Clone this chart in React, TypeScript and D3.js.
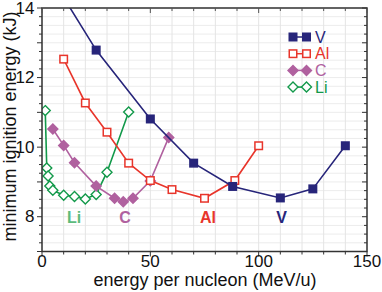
import React from "react";
import * as d3 from "d3";

const vX = [10, 25, 50, 70, 88, 110, 125, 140];
const vY = [14.3, 12.79, 10.81, 9.54, 8.87, 8.54, 8.8, 10.04];
const alX = [10, 20, 30, 40, 50, 60, 75, 89, 100];
const alY = [12.53, 11.27, 10.43, 9.54, 9.04, 8.78, 8.53, 9.04, 10.04];
const cX = [5, 10, 15, 25, 33.5, 37.5, 42, 50, 58.5];
const cY = [10.52, 10.05, 9.55, 8.88, 8.53, 8.43, 8.53, 9.03, 10.28];
const liX = [1.5, 2.2, 2.8, 3.6, 5, 10, 15, 20, 25, 30, 40];
const liY = [11.05, 9.4, 9.17, 8.88, 8.76, 8.62, 8.58, 8.51, 8.64, 9.28, 11.01];

const xTicks = [0, 50, 100, 150];
const yTicks = [8, 10, 12, 14];

const W = 382, H = 292;
const L = 42, R = 367, T = 8, B = 251.5;
const FONT = "Liberation Sans, Arial, sans-serif";

const colV = "#27257a";
const colAl = "#e8352b";
const colC = "#b0619f";
const colLi = "#12994a";
const colLiText = "#5dbb7c";

type Shape = "sqFill" | "sqOpen" | "diaFill" | "diaOpen";

function Marker({ x, y, shape, color }: { x: number; y: number; shape: Shape; color: string }) {
  if (shape === "sqFill" || shape === "sqOpen") {
    const s = 7.5;
    return (
      <rect x={x - s / 2} y={y - s / 2} width={s} height={s}
        fill={shape === "sqFill" ? color : "#fff"} stroke={color} strokeWidth={1.5} />
    );
  }
  const r = 5;
  const pts = `${x},${y - r} ${x + r},${y} ${x},${y + r} ${x - r},${y}`;
  return <polygon points={pts} fill={shape === "diaFill" ? color : "#fff"} stroke={color} strokeWidth={1.4} />;
}

export default function App() {
  const x = d3.scaleLinear().domain([0, 150]).range([L, R]);
  const y = d3.scaleLinear().domain([7, 14]).range([B, T]);
  const line = d3.line<[number, number]>().x(d => x(d[0])).y(d => y(d[1]));

  const series = [
    { xs: liX, ys: liY, color: colLi, shape: "diaOpen" as Shape },
    { xs: cX, ys: cY, color: colC, shape: "diaFill" as Shape },
    { xs: alX, ys: alY, color: colAl, shape: "sqOpen" as Shape },
    { xs: vX, ys: vY, color: colV, shape: "sqFill" as Shape },
  ];

  const xMinor = d3.range(0, 151, 10);
  const yMinor = d3.range(7, 14.001, 0.25);

  const legend = [
    { name: "V", color: colV, shape: "sqFill" as Shape },
    { name: "Al", color: colAl, shape: "sqOpen" as Shape },
    { name: "C", color: colC, shape: "diaFill" as Shape },
    { name: "Li", color: colLi, shape: "diaOpen" as Shape },
  ];

  const labels = [
    { t: "Li", x: 14.8, c: colLiText },
    { t: "C", x: 38.3, c: colC },
    { t: "Al", x: 76.6, c: colAl },
    { t: "V", x: 110.6, c: colV },
  ];

  return (
    <svg width={W} height={H} style={{ position: "absolute", left: 0, top: 0 }} fontFamily={FONT}>
      <defs>
        <clipPath id="plot">
          <rect x={L} y={T} width={R - L} height={B - T} />
        </clipPath>
      </defs>
      <rect x={0} y={0} width={W} height={H} fill="#fff" />
      {/* grid */}
      {yMinor.map((v, i) => (
        <line key={"gy" + i} x1={L} x2={R} y1={y(v)} y2={y(v)} stroke="#ececec" strokeWidth={1} />
      ))}
      {xMinor.map((v, i) => (
        <line key={"gx" + i} x1={x(v)} x2={x(v)} y1={T} y2={B} stroke="#e4e4e4" strokeWidth={1} />
      ))}
      {/* series */}
      <g clipPath="url(#plot)">
        {series.map((s, si) => {
          const pts: [number, number][] = s.xs.map((v, i) => [v, s.ys[i]]);
          return (
            <g key={si}>
              <path d={line(pts) || ""} fill="none" stroke={s.color} strokeWidth={1.6} />
              {pts.map((p, i) => (
                <Marker key={i} x={x(p[0])} y={y(p[1])} shape={s.shape} color={s.color} />
              ))}
            </g>
          );
        })}
      </g>
      {/* frame */}
      <rect x={L} y={T} width={R - L} height={B - T} fill="none" stroke="#333" strokeWidth={1.5} />
      {/* x ticks bottom (outward) & top (inward) */}
      {xMinor.map((v, i) => {
        const major = v % 50 === 0;
        return (
          <g key={"xt" + i}>
            <line x1={x(v)} x2={x(v)} y1={B} y2={B + (major ? 5 : 3)} stroke="#333" strokeWidth={1} />
            <line x1={x(v)} x2={x(v)} y1={T} y2={T + (major ? 5 : 3)} stroke="#555" strokeWidth={1} />
          </g>
        );
      })}
      {yMinor.map((v, i) => {
        const major = Math.abs(v - Math.round(v)) < 1e-6;
        return (
          <g key={"yt" + i}>
            <line x1={L} x2={L - (major ? 5 : 3)} y1={y(v)} y2={y(v)} stroke="#333" strokeWidth={1} />
            <line x1={R} x2={R - (major ? 5 : 3)} y1={y(v)} y2={y(v)} stroke="#333" strokeWidth={1} />
          </g>
        );
      })}
      {xTicks.map(v => (
        <text key={"xl" + v} x={x(v)} y={267} textAnchor="middle" fontSize={17} fill="#111">{v}</text>
      ))}
      {yTicks.map(v => (
        <text key={"yl" + v} x={L - 7.5} y={y(v) + 5.5} textAnchor="end" fontSize={17} fill="#111">{v}</text>
      ))}
      <text x={205} y={285.5} textAnchor="middle" fontSize={18} fill="#111">energy per nucleon (MeV/u)</text>
      <text transform={`translate(15.5, 126.5) rotate(-90)`} textAnchor="middle" fontSize={18} fill="#111">
        minimum ignition energy (kJ)
      </text>
      {/* legend */}
      {legend.map((l, i) => {
        const ly = 37 + i * 16.7;
        return (
          <g key={"lg" + i}>
            <line x1={293} x2={306.5} y1={ly} y2={ly} stroke={l.color} strokeWidth={1.5} />
            <Marker x={293} y={ly} shape={l.shape} color={l.color} />
            <Marker x={306.5} y={ly} shape={l.shape} color={l.color} />
            <text x={315} y={ly + 5.7} fontSize={16} fill={l.color}>{l.name}</text>
          </g>
        );
      })}
      {/* inline labels */}
      {labels.map(l => (
        <text key={l.t} x={x(l.x)} y={223} textAnchor="middle" fontSize={16} fontWeight="bold" fill={l.c}>{l.t}</text>
      ))}
    </svg>
  );
}
